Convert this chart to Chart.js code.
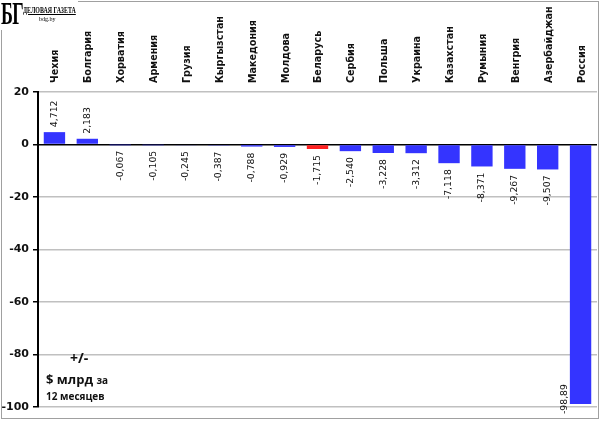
<!DOCTYPE html>
<html>
<head>
<meta charset="utf-8">
<script src="https://cdn.jsdelivr.net/npm/chart.js@4"></script>
<style>
  body { margin: 0; background: #fff; }
  #wrap { position: relative; width: 600px; height: 421px; }
  #frame { position: absolute; left: 1px; top: 1px; width: 596px; height: 416px; border: 1px solid #a0a0a0; }
  #logo { position: absolute; left: 0; top: 0; width: 78px; height: 30px; background: #fff; font-family: "Liberation Serif", serif; }
  #logo .big { position: absolute; left: 1px; top: -2px; font-size: 31px; line-height: 31px; font-weight: bold; transform: scaleX(0.58); transform-origin: left top; letter-spacing: -1px; }
  #logo .name { position: absolute; left: 23px; top: 6px; font-size: 8px; line-height: 9px; font-weight: bold; text-decoration: underline; transform: scaleX(0.74); transform-origin: left top; white-space: nowrap; }
  #logo .site { position: absolute; left: 39px; top: 16px; font-size: 6px; line-height: 7px; }
  .note { position: absolute; font-family: "Open Sans", sans-serif; font-weight: bold; color: #111; white-space: nowrap; }
  canvas { position: absolute; left: 0; top: 0; }
</style>
</head>
<body>
<div id="wrap">
  <div id="frame"></div>
  <canvas id="chart" width="600" height="421"></canvas>
  <div id="logo"><span class="big">БГ</span><span class="name">ДЕЛОВАЯ ГАЗЕТА</span><span class="site">bdg.by</span></div>
  <div class="note" style="left:70px; top:348px; font-size:14px;">+/-</div>
  <div class="note" style="left:46px; top:370px; font-size:13px;">$ млрд <span style="font-size:10px;">за</span></div>
  <div class="note" style="left:46px; top:389px; font-size:10px;">12 месяцев</div>
</div>
<script>
// countries, balance change over 12 months, $ bn
const countries = ["Чехия", "Болгария", "Хорватия", "Армения", "Грузия", "Кыргызстан",
  "Македония", "Молдова", "Беларусь", "Сербия", "Польша", "Украина", "Казахстан",
  "Румыния", "Венгрия", "Азербайджан", "Россия"];
const values = [4.712, 2.183, -0.067, -0.105, -0.245, -0.387, -0.788, -0.929, -1.715,
  -2.540, -3.228, -3.312, -7.118, -8.371, -9.267, -9.507, -98.89];
const highlight = "Беларусь";
const yTicks = [20, 0, -20, -40, -60, -80, -100];

const blue = "#3434ff";
const red = "#ff2020";

function fmt(v) {
  const s = Math.abs(v) >= 10 ? v.toFixed(2) : v.toFixed(3);
  return s.replace(".", ",");
}

// rotated value labels over / under each bar
const valueLabels = {
  id: "valueLabels",
  afterDatasetsDraw(chart) {
    const ctx = chart.ctx;
    const meta = chart.getDatasetMeta(0);
    const area = chart.chartArea;
    ctx.save();
    ctx.font = "9.3px 'DejaVu Sans'";
    ctx.fillStyle = "#111";
    ctx.textBaseline = "middle";
    meta.data.forEach((bar, i) => {
      const v = values[i];
      const text = fmt(v);
      const w = ctx.measureText(text).width;
      ctx.save();
      if (v >= 0) {
        ctx.translate(bar.x, bar.y - 5);
        ctx.rotate(-Math.PI / 2);
        ctx.textAlign = "left";
      } else if (bar.y + 6 + w > area.bottom + 8) {
        // no room below: put it beside the bar
        ctx.translate(bar.x - bar.width / 2 - 5, bar.y - 20);
        ctx.rotate(-Math.PI / 2);
        ctx.textAlign = "right";
      } else {
        ctx.translate(bar.x, bar.y + 6);
        ctx.rotate(-Math.PI / 2);
        ctx.textAlign = "right";
      }
      ctx.fillText(text, 0, 0);
      ctx.restore();
    });
    ctx.restore();
  }
};

new Chart(document.getElementById("chart"), {
  type: "bar",
  data: {
    labels: countries,
    datasets: [{
      data: values,
      backgroundColor: countries.map(c => c === highlight ? red : blue),
      barPercentage: 0.65,
      categoryPercentage: 1
    }]
  },
  options: {
    responsive: false,
    animation: false,
    layout: { padding: { top: 0, right: 3, bottom: 14, left: 0 } },
    plugins: { legend: { display: false }, tooltip: { enabled: false } },
    scales: {
      x: {
        position: "top",
        grid: { display: false, drawTicks: false },
        border: { display: false },
        ticks: {
          minRotation: 90, maxRotation: 90, autoSkip: false, padding: 9,
          labelOffset: 13,
          color: "#111",
          font: { family: "DejaVu Sans", size: 9.6, weight: "bold" }
        },
        afterFit(scale) { scale.height = 92; }
      },
      y: {
        min: -100, max: 20,
        afterBuildTicks(scale) { scale.ticks = yTicks.map(v => ({ value: v })); },
        grid: {
          color: ctx => ctx.tick && ctx.tick.value === 0 ? "#000" : "#c0c0c0",
          lineWidth: 1.5,
          tickColor: "#000",
          tickLength: 5
        },
        border: { color: "#000", width: 2 },
        ticks: {
          padding: 4,
          color: "#111",
          font: { family: "DejaVu Sans", size: 11, weight: "bold" }
        },
        afterFit(scale) { scale.width = 38; }
      }
    }
  },
  plugins: [valueLabels]
});
</script>
</body>
</html>
